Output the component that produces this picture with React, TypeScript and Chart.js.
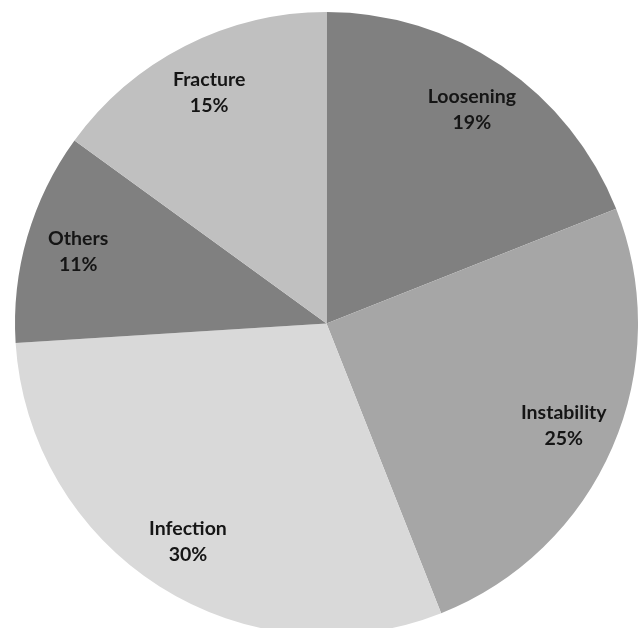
import React, { useEffect, useRef } from "react";
import { Chart, registerables } from "chart.js";

Chart.register(...registerables);

const categories = ["Loosening", "Instability", "Infection", "Others", "Fracture"];
const percentages = [19, 25, 30, 11, 15];
const sliceColors = ["#808080", "#a6a6a6", "#d9d9d9", "#808080", "#c0c0c0"];

const labelPlugin = {
  id: "sliceLabels",
  afterDatasetsDraw(chart: any) {
    const ctx = chart.ctx;
    const meta = chart.getDatasetMeta(0);
    ctx.save();
    ctx.fillStyle = "#151515";
    ctx.font = "bold 19.5px Lato";
    ctx.textAlign = "center";
    ctx.textBaseline = "middle";
    meta.data.forEach((arc: any, i: number) => {
      const { x, y, startAngle, endAngle, outerRadius } = arc.getProps(
        ["x", "y", "startAngle", "endAngle", "outerRadius"],
        true
      );
      const mid = (startAngle + endAngle) / 2;
      const r = outerRadius * 0.83;
      const cx = x + Math.cos(mid) * r;
      const cy = y + Math.sin(mid) * r;
      ctx.fillText(categories[i], cx, cy - 13);
      ctx.fillText(percentages[i] + "%", cx, cy + 13);
    });
    ctx.restore();
  },
};

export default function App() {
  const ref = useRef<HTMLCanvasElement>(null);
  useEffect(() => {
    document.body.style.margin = "0";
    document.body.style.overflow = "hidden";
    const chart = new Chart(ref.current!, {
      type: "pie",
      data: {
        labels: categories,
        datasets: [
          {
            data: percentages,
            backgroundColor: sliceColors,
            borderWidth: 0,
          },
        ],
      },
      options: {
        responsive: false,
        animation: false,
        layout: { padding: { top: 12, bottom: 25, left: 15, right: 0 } },
        plugins: {
          legend: { display: false },
          tooltip: { enabled: false },
        },
      },
      plugins: [labelPlugin],
    });
    return () => chart.destroy();
  }, []);
  return (
    <div
      style={{
        position: "absolute",
        left: 0,
        top: 0,
        width: 638,
        height: 628,
        overflow: "hidden",
        background: "#fff",
      }}
    >
      <canvas ref={ref} width={638} height={660} style={{ display: "block" }} />
    </div>
  );
}
